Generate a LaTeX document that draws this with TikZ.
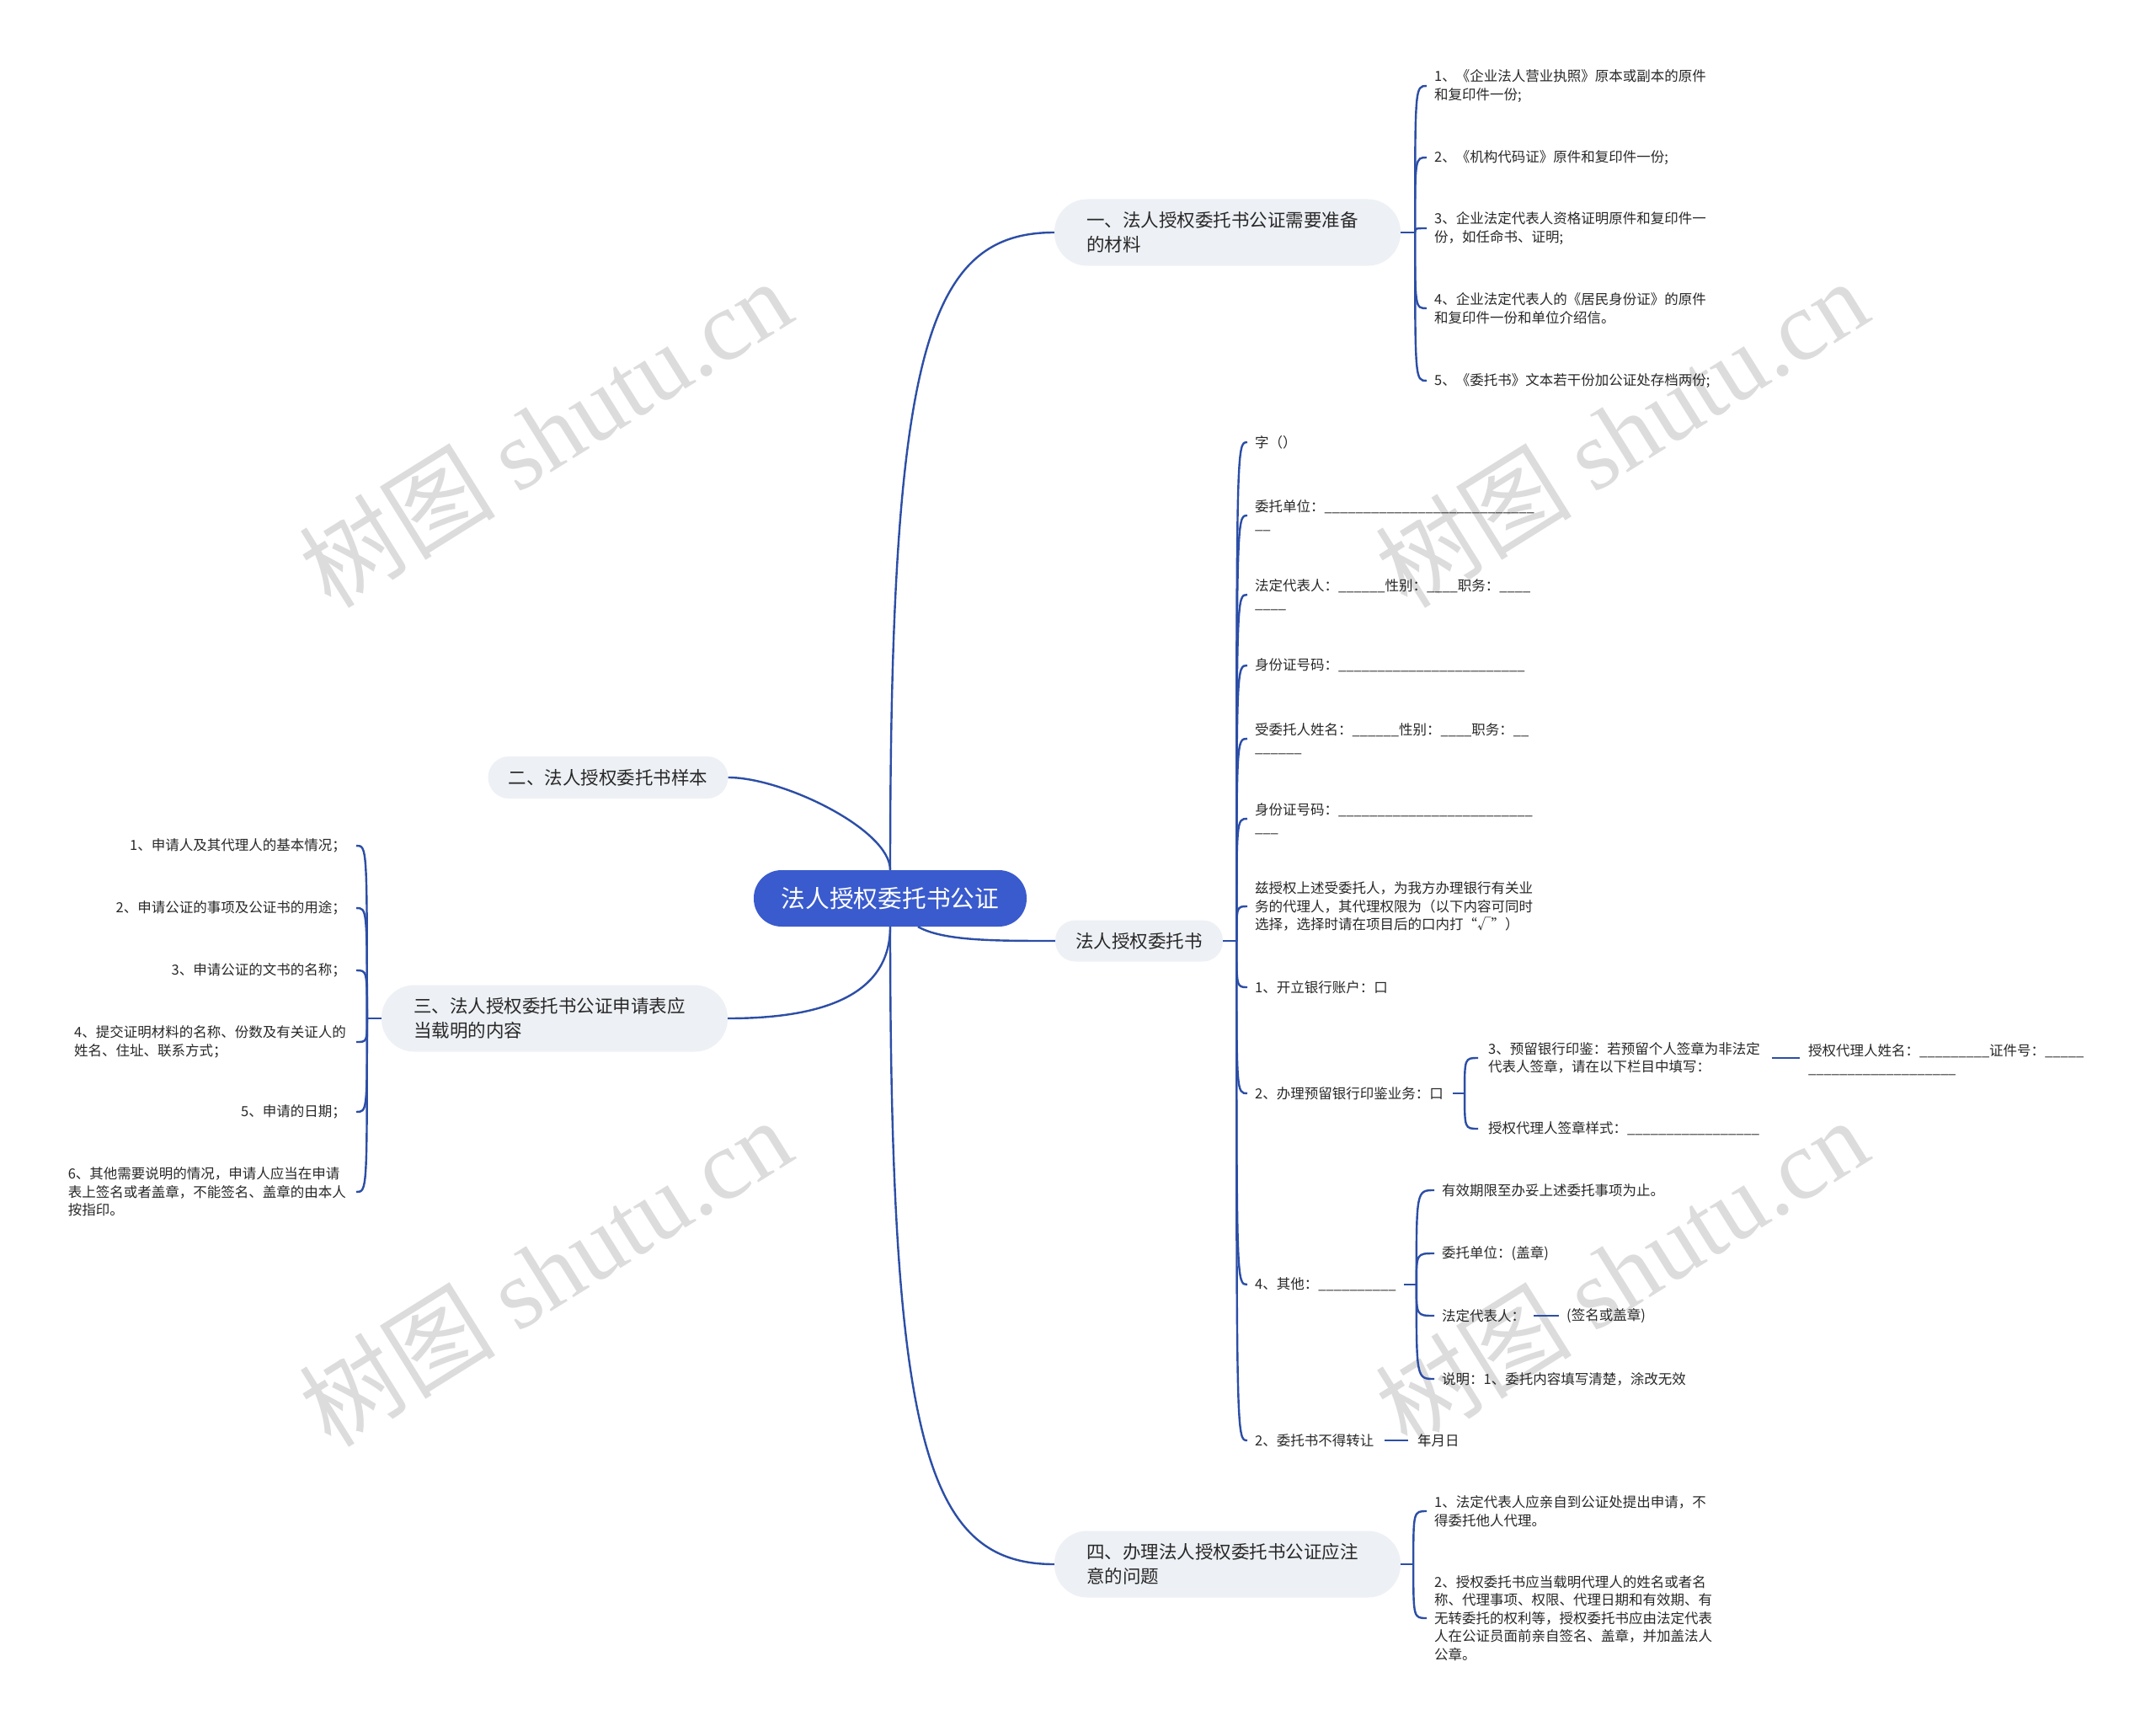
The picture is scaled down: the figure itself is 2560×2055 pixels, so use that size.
\documentclass[tikz,border=0pt]{standalone}
\usepackage{fontspec}
\setmainfont{Noto Sans CJK SC}
\newfontfamily\wmlat{Liberation Serif}
\usetikzlibrary{calc}
\definecolor{linec}{RGB}{44,78,166}
\definecolor{nodefill}{RGB}{237,240,244}
\definecolor{rootfill}{RGB}{58,91,205}
\definecolor{txt}{RGB}{40,40,40}
\definecolor{wm}{RGB}{220,220,220}
\newcommand\us[1]{\foreach\i in {1,...,#1}{\_}}
\tikzset{
 conn/.style={draw=linec, line width=2.4pt},
 rootnode/.style={fill=rootfill, text=white, rounded corners=33pt, minimum width=324pt, minimum height=67pt, font=\fontsize{28.7}{34}\selectfont, inner sep=0pt},
 topic/.style={fill=nodefill, text=txt, font=\fontsize{21.5}{29}\selectfont, inner sep=0pt},
 topictwo/.style={topic, text width=335pt, align=left, inner xsep=38pt, minimum height=79pt, rounded corners=39pt},
 leaf/.style={text=txt, font=\fontsize{16.5}{21.5}\selectfont, inner sep=0pt, align=left},
 leafR/.style={leaf, anchor=west},
 leafL/.style={leaf, anchor=east},
 wmark/.style={text=wm, rotate=32, font=\fontsize{117}{117}\selectfont, inner sep=0pt},
}
% right-side bracket: parent, start gap, spine length, end gap, children
\newcommand\brR[5]{%
 \draw[conn] ($(#1.east)+(#2,0)$) -- ++(#3,0) coordinate (sp);
 \foreach \c in {#5}{\draw[conn] (sp) .. controls (sp |- \c.west) .. ($(\c.west)+(-#4,0)$);}
}
\newcommand\brL[5]{%
 \draw[conn] ($(#1.west)+(-#2,0)$) -- ++(-#3,0) coordinate (sp);
 \foreach \c in {#5}{\draw[conn] (sp) .. controls (sp |- \c.east) .. ($(\c.east)+(#4,0)$);}
}
\begin{document}
\begin{tikzpicture}[x=1pt,y=-1pt]
\useasboundingbox (0,0) rectangle (2560,2055);
\fill[white] (0,0) rectangle (2560,2055);
% watermarks
\node[wmark] (w1) at (647,514) {树图 {\wmlat shutu.cn}};
\node[wmark] (w2) at (1925,514) {树图 {\wmlat shutu.cn}};
\node[wmark] (w3) at (647,1510) {树图 {\wmlat shutu.cn}};
\node[wmark] (w4) at (1925,1510) {树图 {\wmlat shutu.cn}};
% main nodes
\node[rootnode] (root) at (1057,1066.5) {法人授权委托书公证};
\node[topictwo] (n1) at (1457.5,276) {一、法人授权委托书公证需要准备\\的材料};
\node[topic, minimum width=285pt, minimum height=50pt, rounded corners=25pt] (n2) at (722,923) {二、法人授权委托书样本};
\node[topic, minimum width=199pt, minimum height=49pt, rounded corners=24pt] (nb) at (1352.5,1117) {法人授权委托书};
\node[topictwo] (n3) at (658.5,1209) {三、法人授权委托书公证申请表应\\当载明的内容};
\node[topictwo] (n4) at (1457.5,1857) {四、办理法人授权委托书公证应注\\意的问题};
% branch 1
\node[leafR] (c1) at (1703,102) {1、《企业法人营业执照》原本或副本的原件\\和复印件一份;};
\node[leafR] (c2) at (1703,187) {2、《机构代码证》原件和复印件一份;};
\node[leafR] (c3) at (1703,271) {3、企业法定代表人资格证明原件和复印件一\\份，如任命书、证明;};
\node[leafR] (c4) at (1703,366) {4、企业法定代表人的《居民身份证》的原件\\和复印件一份和单位介绍信。};
\node[leafR] (c5) at (1703,452) {5、《委托书》文本若干份加公证处存档两份;};
% branch sample form
\node[leafR] (k1) at (1490,525) {字（）};
\node[leafR] (k2) at (1490,612) {委托单位：\us{27}\\\us{2}};
\node[leafR] (k3) at (1490,706) {法定代表人：\us{6}性别：\us{4}职务：\us{4}\\\us{4}};
\node[leafR] (k4) at (1490,790) {身份证号码：\us{24}};
\node[leafR] (k5) at (1490,877) {受委托人姓名：\us{6}性别：\us{4}职务：\us{2}\\\us{6}};
\node[leafR] (k6) at (1490,972) {身份证号码：\us{25}\\\us{3}};
\node[leafR] (k7) at (1490,1076) {兹授权上述受委托人，为我方办理银行有关业\\务的代理人，其代理权限为（以下内容可同时\\选择，选择时请在项目后的口内打“√”）};
\node[leafR] (k8) at (1490,1172) {1、开立银行账户：口};
\node[leafR] (k9) at (1490,1298) {2、办理预留银行印鉴业务：口};
\node[leafR] (k10) at (1490,1525) {4、其他：\us{10}};
\node[leafR] (k11) at (1490,1710) {2、委托书不得转让};
\node[leafR] (m1) at (1767,1256) {3、预留银行印鉴：若预留个人签章为非法定\\代表人签章，请在以下栏目中填写：};
\node[leafR] (f1) at (2147,1258) {授权代理人姓名：\us{9}证件号：\us{5}\\\us{19}};
\node[leafR] (m2) at (1767,1340) {授权代理人签章样式：\us{17}};
\node[leafR] (q1) at (1712,1413) {有效期限至办妥上述委托事项为止。};
\node[leafR] (q2) at (1712,1488) {委托单位：(盖章)};
\node[leafR] (q3) at (1712,1562) {法定代表人：};
\node[leafR] (q3b) at (1860,1562) {(签名或盖章)};
\node[leafR] (q4) at (1712,1637) {说明：1、委托内容填写清楚，涂改无效};
\node[leafR] (yr) at (1683,1710) {年月日};
% branch 3
\node[leafL] (l1) at (411,1004) {1、申请人及其代理人的基本情况；};
\node[leafL] (l2) at (411,1078) {2、申请公证的事项及公证书的用途；};
\node[leafL] (l3) at (411,1152) {3、申请公证的文书的名称；};
\node[leafL] (l4) at (411,1237) {4、提交证明材料的名称、份数及有关证人的\\姓名、住址、联系方式；};
\node[leafL] (l5) at (411,1320) {5、申请的日期；};
\node[leafL] (l6) at (411,1415) {6、其他需要说明的情况，申请人应当在申请\\表上签名或者盖章，不能签名、盖章的由本人\\按指印。};
% branch 4
\node[leafR] (p1) at (1703,1794) {1、法定代表人应亲自到公证处提出申请，不\\得委托他人代理。};
\node[leafR] (p2) at (1703,1921) {2、授权委托书应当载明代理人的姓名或者名\\称、代理事项、权限、代理日期和有效期、有\\无转委托的权利等，授权委托书应由法定代表\\人在公证员面前亲自签名、盖章，并加盖法人\\公章。};
% trunk connectors
\draw[conn] (root.north) .. controls (1057,420) and (1100,276) .. (n1.west);
\draw[conn] (root.south) .. controls (1057,1713) and (1100,1857) .. (n4.west);
\draw[conn] (root.north) .. controls (1057,985) and (930,923) .. (n2.east);
\draw[conn] (root.south) .. controls (1057,1185) and (970,1209) .. (n3.east);
\draw[conn] ($(root.south)+(33,0)$) .. controls (1120,1117) and (1180,1117) .. (nb.west);
% brackets
\brR{n1}{0}{17}{9}{c1,c2,c3,c4,c5}
\brR{nb}{0}{16}{9}{k1,k2,k3,k4,k5,k6,k7,k8,k9,k10,k11}
\brR{k9}{11}{14}{12}{m1,m2}
\brR{k10}{9}{15}{9}{q1,q2,q3,q4}
\brR{n4}{0}{15}{9}{p1,p2}
\brL{n3}{0}{17}{12}{l1,l2,l3,l4,l5,l6}
\draw[conn] ($(m1.east)+(14,0)$) -- ($(m1.east -| f1.west)+(-10,0)$);
\draw[conn] ($(q3.east)+(10,0)$) -- ($(q3b.west)+(-9,0)$);
\draw[conn] ($(k11.east)+(12,0)$) -- ($(yr.west)+(-11,0)$);
\end{tikzpicture}
\end{document}
